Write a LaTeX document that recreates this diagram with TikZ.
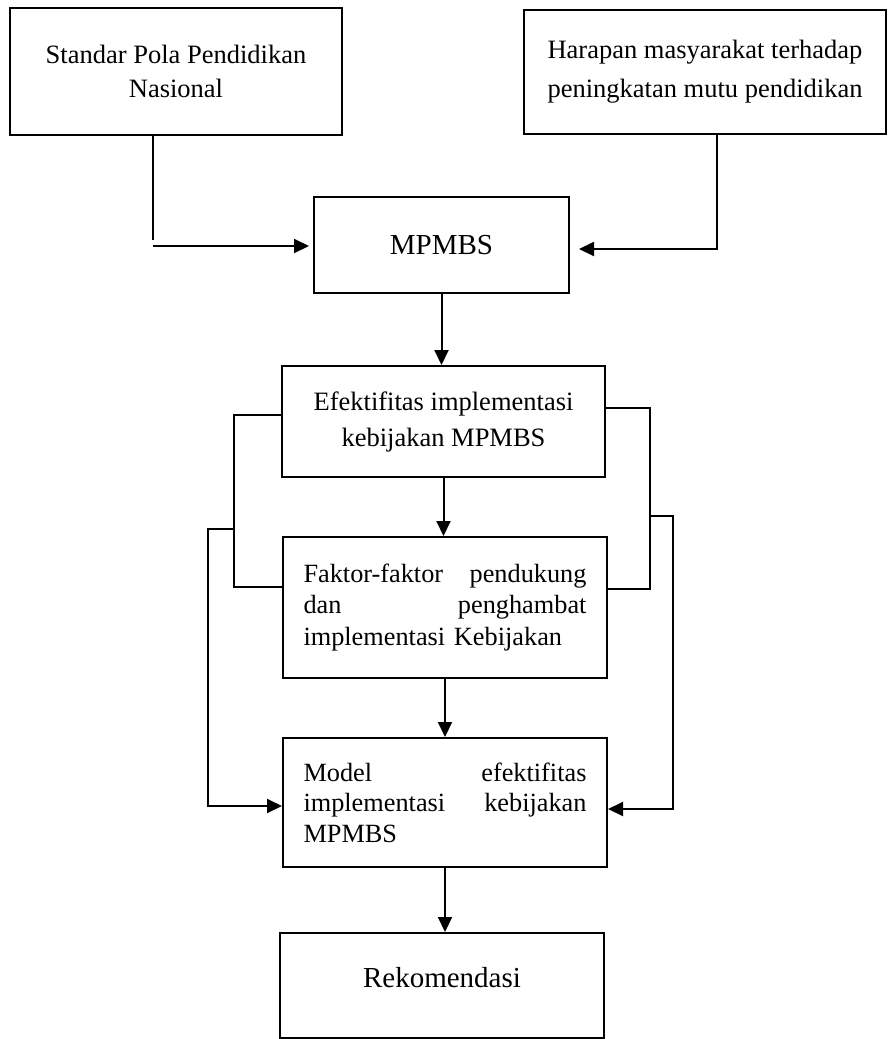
\documentclass[tikz,border=0pt]{standalone}
\usepackage{fontspec}
\setmainfont{Liberation Serif}
\usetikzlibrary{arrows.meta}

\begin{document}
\begin{tikzpicture}[x=1pt,y=-1pt,
  kotak/.style={draw, line width=2pt, inner sep=0pt, align=center},
  garis/.style={line width=2pt},
  panah/.style={line width=2pt, -{Triangle[length=15pt,width=14pt]}}]
% Alur kerangka pikir MPMBS
\useasboundingbox (0,0) rectangle (887,1039);
\node[kotak, minimum width=332pt, minimum height=127pt, font=\fontsize{26.5}{34}\selectfont] (std) at (176,71.5) {Standar Pola Pendidikan\\Nasional};
\node[kotak, minimum width=362pt, minimum height=124pt, font=\fontsize{26.5}{39}\selectfont] (hrp) at (705,72) {Harapan masyarakat terhadap\\peningkatan mutu pendidikan};
\node[kotak, minimum width=255pt, minimum height=96pt, font=\fontsize{29}{34}\selectfont] (mpmbs) at (441.5,245) {MPMBS};
\node[kotak, minimum width=323pt, minimum height=111pt, font=\fontsize{26.5}{36}\selectfont] (efk) at (443.5,421.5) {Efektifitas implementasi\\kebijakan MPMBS};
\node[kotak, minimum width=324pt, minimum height=141pt, text width=283pt, align=left, font=\fontsize{26.3}{31.5}\selectfont] (fkt) at (445,607.5) {Faktor-faktor\hfill pendukung\\dan\hfill penghambat\\implementasi Kebijakan};
\node[kotak, minimum width=324pt, minimum height=129pt, text width=283pt, align=left, font=\fontsize{26.3}{30.5}\selectfont] (model) at (445,802.5) {Model\hfill efektifitas\\implementasi\hfill kebijakan\\MPMBS};
\node[kotak, minimum width=324pt, minimum height=105pt, text depth=17pt, font=\fontsize{29}{34}\selectfont] (rek) at (442,985.5) {Rekomendasi};

% masukan ke MPMBS
\coordinate (a1) at (153,240);
\coordinate (a2) at (153,246);
\draw[garis] (std.south -| a1) -- (a1);
\draw[panah, shorten >=4pt] (a2) -- (a2 -| mpmbs.west);
\coordinate (b1) at (717,249);
\draw[panah, shorten >=9pt] (hrp.south -| b1) -- (b1) -- (b1 -| mpmbs.east);

% alur tengah
\draw[panah] (mpmbs.south) -- (mpmbs.south |- efk.north);
\draw[panah] (efk.south) -- (efk.south |- fkt.north);
\draw[panah] (fkt.south) -- (fkt.south |- model.north);
\draw[panah] (model.south) -- (model.south |- rek.north);

% kiri
\coordinate (kl1) at (234,415);
\coordinate (kl2) at (234,587);
\coordinate (kl3) at (234,529);
\coordinate (kl4) at (208,529);
\coordinate (kl5) at (208,806);
\draw[garis] (efk.west |- kl1) -- (kl1) -- (kl2) -- (fkt.west |- kl2);
\draw[panah] (kl3) -- (kl4) -- (kl5) -- (model.west |- kl5);

% kanan
\coordinate (kn1) at (650,408);
\coordinate (kn2) at (650,589);
\coordinate (kn3) at (650,516);
\coordinate (kn4) at (673,516);
\coordinate (kn5) at (673,809);
\draw[garis] (efk.east |- kn1) -- (kn1) -- (kn2) -- (fkt.east |- kn2);
\draw[panah] (kn3) -- (kn4) -- (kn5) -- (model.east |- kn5);
\end{tikzpicture}
\end{document}
